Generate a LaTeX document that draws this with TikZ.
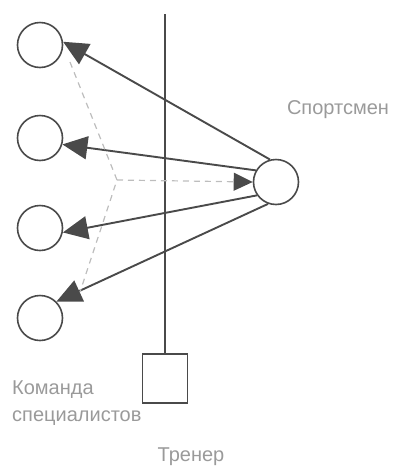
\documentclass[tikz,border=0pt]{standalone}
\usepackage{fontspec}
\setmainfont{Liberation Sans}
\usetikzlibrary{arrows.meta}
\definecolor{linegray}{HTML}{4A4A4A}
\definecolor{textgray}{HTML}{9A9A9A}
\definecolor{dashgray}{HTML}{BDBDBD}

\begin{document}
\begin{tikzpicture}[x=1pt,y=-1pt,
    person/.style={circle,draw=linegray,line width=1.6pt,minimum size=45pt,inner sep=0pt},
    link/.style={draw=linegray,line width=1.9pt,-{Triangle[length=25pt,width=23pt]}},
    hint/.style={draw=dashgray,line width=1.2pt,dash pattern=on 6pt off 5pt},
    note/.style={text=textgray,font=\fontsize{20}{24}\selectfont,inner sep=0pt}]
    \useasboundingbox (0,0) rectangle (394,467);

    % 绘制人物
    \node[person] (s1) at (40,45) {};
    \node[person] (s2) at (40,138) {};
    \node[person] (s3) at (40,228) {};
    \node[person] (s4) at (40,318) {};
    \node[person] (sportsman) at (276,182) {};
    \node[draw=linegray,line width=1.6pt,minimum width=45pt,minimum height=49pt,inner sep=0pt] (coach) at (165,378.5) {};

    % 绘制竖线
    \coordinate (top) at (165,14);
    \draw[linegray,line width=1.8pt] (top) -- (coach.north);

    % 绘制箭头
    \draw[link] (sportsman.105) -- (s1.8);
    \draw[link] (sportsman.150) -- (s2.-16);
    \draw[link] (sportsman.215) -- (s3.-11);
    \draw[link] (sportsman.250) -- (s4.45);

    % 绘制虚线
    \coordinate (mid) at (117,180);
    \coordinate (d1) at (70,62);
    \coordinate (d4) at (80,292);
    \draw[hint] (d1) -- (mid) -- (d4);
    \draw[hint,-{Triangle[length=19pt,width=18pt,color=linegray]}] (mid) -- (sportsman.west);

    % 文字
    \node[note] (athletelabel) at (338,110) {Спортсмен};
    \node[note,anchor=west] (teamlabel1) at (12,390) {Команда};
    \node[note,anchor=west] (teamlabel2) at (12,418) {специалистов};
    \node[note] (coachlabel) at (191,457) {Тренер};
\end{tikzpicture}
\end{document}
